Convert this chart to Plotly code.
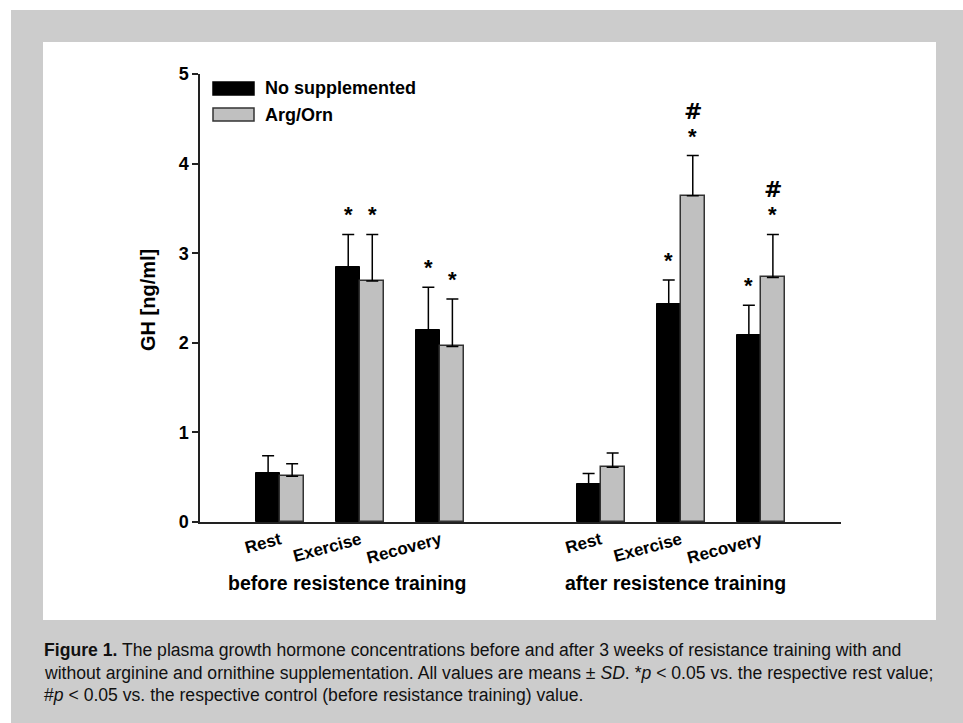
import plotly.graph_objects as go

# Plasma growth hormone (ng/ml), mean and SD per sampling time
phases = ["Rest", "Exercise", "Recovery"]
group_labels = ["before resistence training", "after resistence training"]
series_names = ["No supplemented", "Arg/Orn"]

no_supp_mean = [0.55, 2.85, 2.14, 0.42, 2.43, 2.09]
no_supp_sd = [0.19, 0.36, 0.48, 0.12, 0.27, 0.33]
arg_orn_mean = [0.51, 2.69, 1.96, 0.61, 3.64, 2.73]
arg_orn_sd = [0.14, 0.52, 0.53, 0.16, 0.45, 0.48]

# significance marks: * vs rest, # vs control (before training)
no_supp_star = ["", "*", "*", "", "*", "*"]
arg_orn_star = ["", "*", "*", "", "*", "*"]
arg_orn_hash = ["", "", "", "", "#", "#"]

y_ticks = [0, 1, 2, 3, 4, 5]

caption_lines = [
    "<b>Figure 1.</b> The plasma growth hormone concentrations before and after 3 weeks of resistance training with and",
    "without arginine and ornithine supplementation. All values are means \u00b1 <i>SD</i>. *<i>p</i> &lt; 0.05 vs. the respective rest value;",
    "#<i>p</i> &lt; 0.05 vs. the respective control (before resistance training) value.",
]

# x positions: one empty slot between the two training blocks
positions = [g * 4 + i for g in range(len(group_labels)) for i in range(len(phases))]
tick_text = phases * len(group_labels)
group_label_x = [0.83, 4.94]

W, H = 963, 723
L, R, T, B = 200, 841, 74, 522   # plot area in pixels


def px(x):
    return (x - L) / (R - L)


def py(y):
    return (B - y) / (B - T)


FONT = "Liberation Sans, Arial, sans-serif"
BAR_W = 0.3
GRAY = "#c0c0c0"

fig = go.Figure()
fig.add_trace(go.Bar(
    x=positions, y=no_supp_mean, name=series_names[0],
    width=BAR_W, offset=-BAR_W,
    marker=dict(color="black", line=dict(color="black", width=1)),
    error_y=dict(type="data", symmetric=False, array=no_supp_sd,
                 arrayminus=[0] * len(no_supp_sd),
                 color="black", thickness=1.5, width=6),
    showlegend=False,
))
fig.add_trace(go.Bar(
    x=positions, y=arg_orn_mean, name=series_names[1],
    width=BAR_W, offset=0,
    marker=dict(color=GRAY, line=dict(color="#333333", width=1.5)),
    error_y=dict(type="data", symmetric=False, array=arg_orn_sd,
                 arrayminus=[0] * len(arg_orn_sd),
                 color="black", thickness=1.5, width=6),
    showlegend=False,
))

annotations = []
shapes = []

# figure background: grey frame with a white chart panel
shapes.append(dict(type="rect", xref="paper", yref="paper", layer="below",
                   x0=px(11), x1=px(W + 5), y0=py(H + 5), y1=py(10),
                   fillcolor="#cccccc", line=dict(width=0)))
shapes.append(dict(type="rect", xref="paper", yref="paper", layer="below",
                   x0=px(43), x1=px(936), y0=py(620), y1=py(42),
                   fillcolor="white", line=dict(width=0)))

MARK_FONT = dict(family=FONT, size=22, color="black", weight="bold")
HASH_FONT = dict(family="DejaVu Sans, Liberation Sans, sans-serif", size=22,
                 color="black", weight="bold")

# significance markers above the error bars
for i, p in enumerate(positions):
    top_a = no_supp_mean[i] + no_supp_sd[i]
    top_b = arg_orn_mean[i] + arg_orn_sd[i]
    if no_supp_star[i]:
        annotations.append(dict(x=p - BAR_W / 2, y=top_a, xref="x", yref="y",
                                text=no_supp_star[i], showarrow=False,
                                yanchor="bottom", yshift=5, font=MARK_FONT))
    if arg_orn_star[i]:
        annotations.append(dict(x=p + BAR_W / 2, y=top_b, xref="x", yref="y",
                                text=arg_orn_star[i], showarrow=False,
                                yanchor="bottom", yshift=5, font=MARK_FONT))
    if arg_orn_hash[i]:
        annotations.append(dict(x=p + BAR_W / 2, y=top_b, xref="x", yref="y",
                                text=arg_orn_hash[i], showarrow=False,
                                yanchor="bottom", yshift=30, font=HASH_FONT))

# block labels under the phase names
for label, gx in zip(group_labels, group_label_x):
    annotations.append(dict(x=gx, y=py(583), xref="x", yref="paper",
                            text=label, showarrow=False,
                            xanchor="center", yanchor="middle",
                            font=dict(family=FONT, size=19.5, color="black", weight="bold")))

# y-axis title
annotations.append(dict(x=px(148), y=py(300), xref="paper", yref="paper",
                        text="GH [ng/ml]", textangle=-90, showarrow=False,
                        xanchor="center", yanchor="middle",
                        font=dict(family=FONT, size=20, color="black", weight="bold")))

# legend with wide swatches
legend_rows = [(series_names[0], "black", "black", 82, 95),
               (series_names[1], GRAY, "#333333", 108, 121)]
for name, fill, edge, y0, y1 in legend_rows:
    shapes.append(dict(type="rect", xref="paper", yref="paper",
                       x0=px(213), x1=px(254), y0=py(y1), y1=py(y0),
                       fillcolor=fill, line=dict(color=edge, width=1.5)))
    annotations.append(dict(x=px(263), y=py((y0 + y1) / 2), xref="paper", yref="paper",
                            text=name, showarrow=False, xanchor="left", yanchor="middle",
                            font=dict(family=FONT, size=18, color="black", weight="bold")))

# caption
for k, line in enumerate(caption_lines):
    annotations.append(dict(x=px(42), y=py(650 + 22.5 * k), xref="paper", yref="paper",
                            text=line, showarrow=False, xanchor="left", yanchor="middle",
                            font=dict(family=FONT, size=17.6, color="#111111")))

fig.update_layout(
    width=W, height=H,
    margin=dict(l=L, r=W - R, t=T, b=H - B, pad=0),
    paper_bgcolor="white", plot_bgcolor="rgba(0,0,0,0)",
    bargap=0, barmode="overlay",
    shapes=shapes, annotations=annotations,
    font=dict(family=FONT, color="black"),
    xaxis=dict(range=[-1, 7], tickvals=positions, ticktext=tick_text,
               tickangle=-15, ticks="", showgrid=False, zeroline=False,
               showline=True, linecolor="#222222", linewidth=1.5,
               tickfont=dict(family=FONT, size=17, color="black", weight="bold")),
    yaxis=dict(range=[0, 5], tickvals=y_ticks, ticks="outside", ticklen=6,
               tickwidth=1.5, tickcolor="#222222", showgrid=False, zeroline=False,
               showline=True, linecolor="#222222", linewidth=1.5,
               tickfont=dict(family=FONT, size=18, color="black", weight="bold")),
)

fig.write_html("out.html")
